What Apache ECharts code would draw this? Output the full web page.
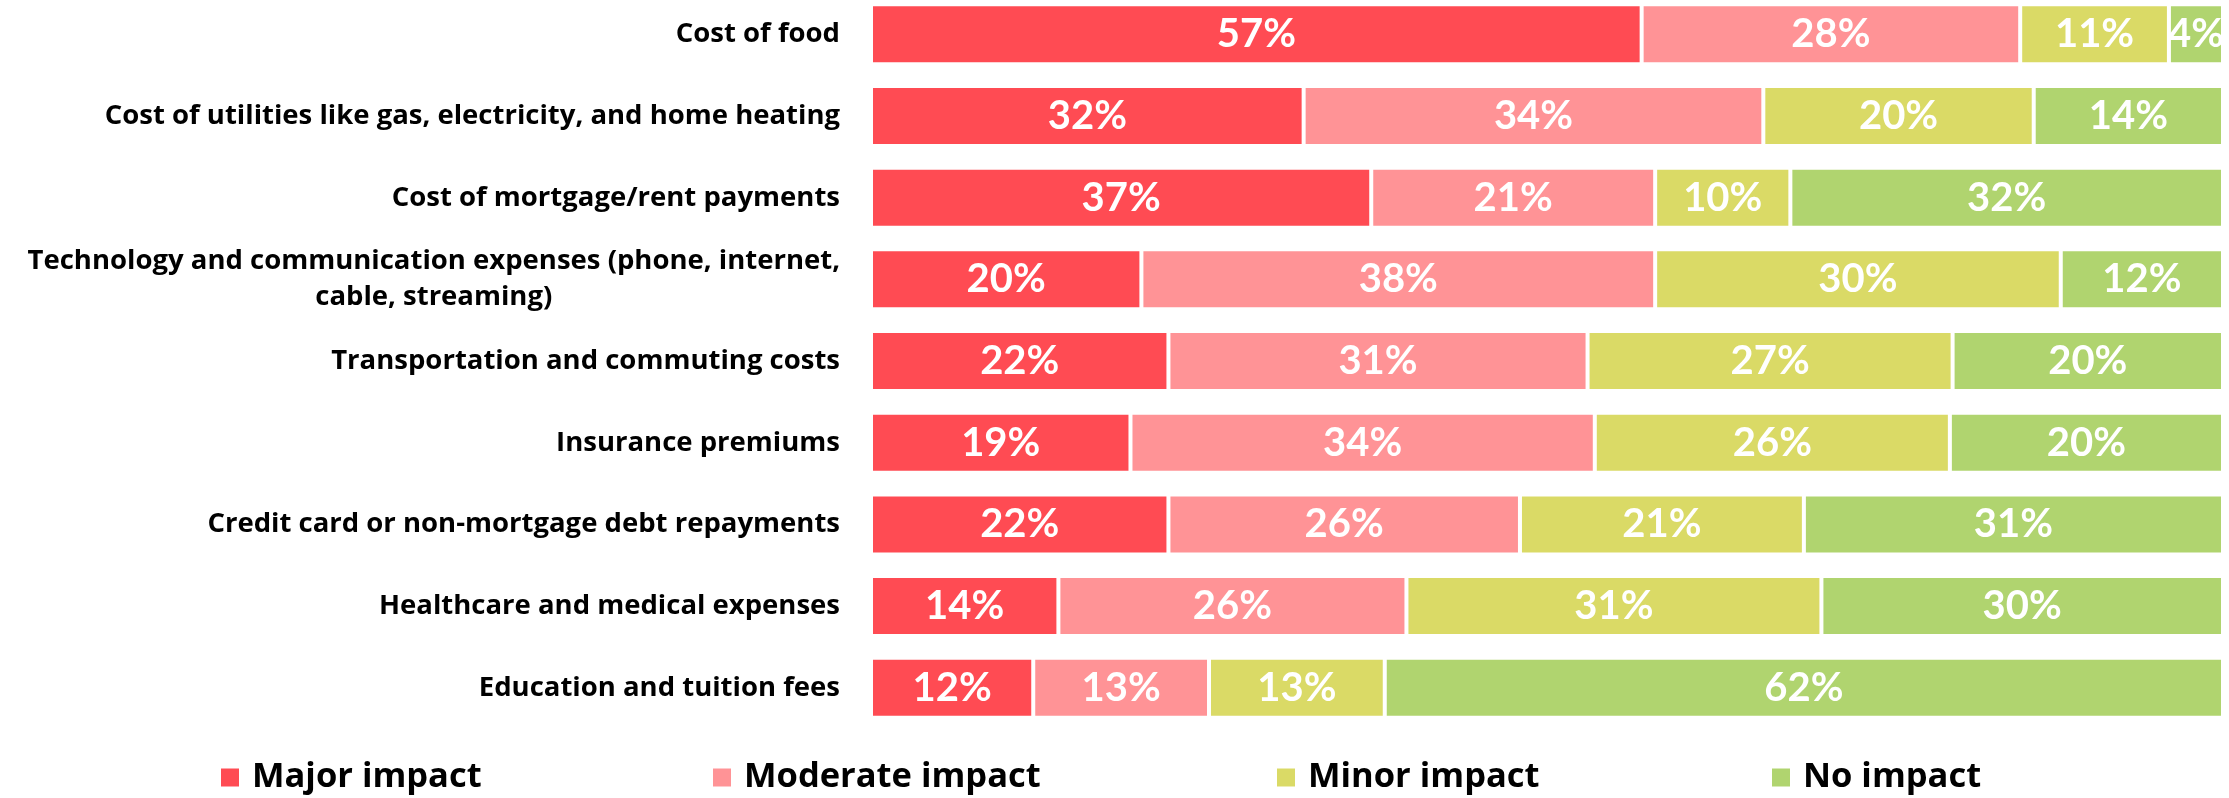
<!DOCTYPE html>
<html><head><meta charset="utf-8">
<script src="https://cdn.jsdelivr.net/npm/echarts@6/dist/echarts.min.js"></script>
<style>html,body{margin:0;padding:0;background:#fff}#c{width:2229px;height:798px}</style>
</head><body><div id="c"></div><script>
const categories = [
  'Cost of food',
  'Cost of utilities like gas, electricity, and home heating',
  'Cost of mortgage/rent payments',
  'Technology and communication expenses (phone, internet,\ncable, streaming)',
  'Transportation and commuting costs',
  'Insurance premiums',
  'Credit card or non-mortgage debt repayments',
  'Healthcare and medical expenses',
  'Education and tuition fees'
];
const seriesNames = ['Major impact', 'Moderate impact', 'Minor impact', 'No impact'];
const major    = [57, 32, 37, 20, 22, 19, 22, 14, 12];
const moderate = [28, 34, 21, 38, 31, 34, 26, 26, 13];
const minor    = [11, 20, 10, 30, 27, 26, 21, 31, 13];
const noImpact = [4, 14, 32, 12, 20, 20, 31, 30, 62];
const colors = ['#FF4B53', '#FF9396', '#DADA66', '#B0D46F'];

const FONT = 'Open Sans';
const BAR_FONT = 'Lato';
const LABEL_SIZE = 27.5;
const raw = [major, moderate, minor, noImpact];
const rowSums = categories.map((_, i) => raw.reduce((s, a) => s + a[i], 0));

function measure(t, size) {
  const ctx = document.createElement('canvas').getContext('2d');
  ctx.font = 'bold ' + size + 'px "' + FONT + '"';
  return ctx.measureText(t).width;
}
let multiW = 0;
categories.forEach(c => { if (c.indexOf('\n') >= 0) c.split('\n').forEach(l => { multiW = Math.max(multiW, measure(l, LABEL_SIZE)); }); });

const chart = echarts.init(document.getElementById('c'), null, {renderer: 'canvas'});

const series = raw.map((arr, s) => ({
  type: 'bar',
  name: seriesNames[s],
  stack: 'total',
  barWidth: 60,
  data: arr.map((v, i) => v / rowSums[i] * 100),
  itemStyle: {color: colors[s], borderColor: '#fff', borderWidth: 2},
  label: {
    show: true, position: 'inside', color: '#fff',
    fontFamily: BAR_FONT, fontWeight: 'bold', fontSize: 40,
    formatter: p => arr[p.dataIndex] + '%'
  },
  emphasis: {disabled: true}
}));

const legendLefts = [219, 711, 1275, 1770];
const legends = seriesNames.map((n, s) => ({
  data: [n],
  left: legendLefts[s],
  top: 760,
  padding: 0,
  itemWidth: 20,
  itemHeight: 20,
  icon: 'rect',
  selectedMode: false,
  formatter: name => '{g|}{t|' + name + '}',
  textStyle: {
    rich: {
      g: {width: 7},
      t: {fontFamily: FONT, fontWeight: 'bold', fontSize: 34.5, color: '#000', lineHeight: 40}
    }
  }
}));

chart.setOption({
  animation: false,
  backgroundColor: '#fff',
  grid: {left: 871, right: 6, top: -6.5, bottom: 69.4, containLabel: false, outerBoundsMode: 'none'},
  xAxis: {type: 'value', min: 0, max: 100, show: false},
  yAxis: {
    type: 'category', data: categories, inverse: true,
    axisLine: {show: false}, axisTick: {show: false}, splitLine: {show: false},
    axisLabel: {
      margin: 31, color: '#000', fontFamily: FONT, fontWeight: 'bold', fontSize: LABEL_SIZE,
      align: 'right',
      formatter: v => v.indexOf('\n') >= 0 ? v.split('\n').map(l => '{c|' + l + '}').join('\n') : v,
      rich: {
        c: {width: multiW, align: 'center', lineHeight: 36, fontFamily: FONT, fontWeight: 'bold', fontSize: LABEL_SIZE, color: '#000'}
      }
    }
  },
  legend: legends,
  series: series
});
</script></body></html>
